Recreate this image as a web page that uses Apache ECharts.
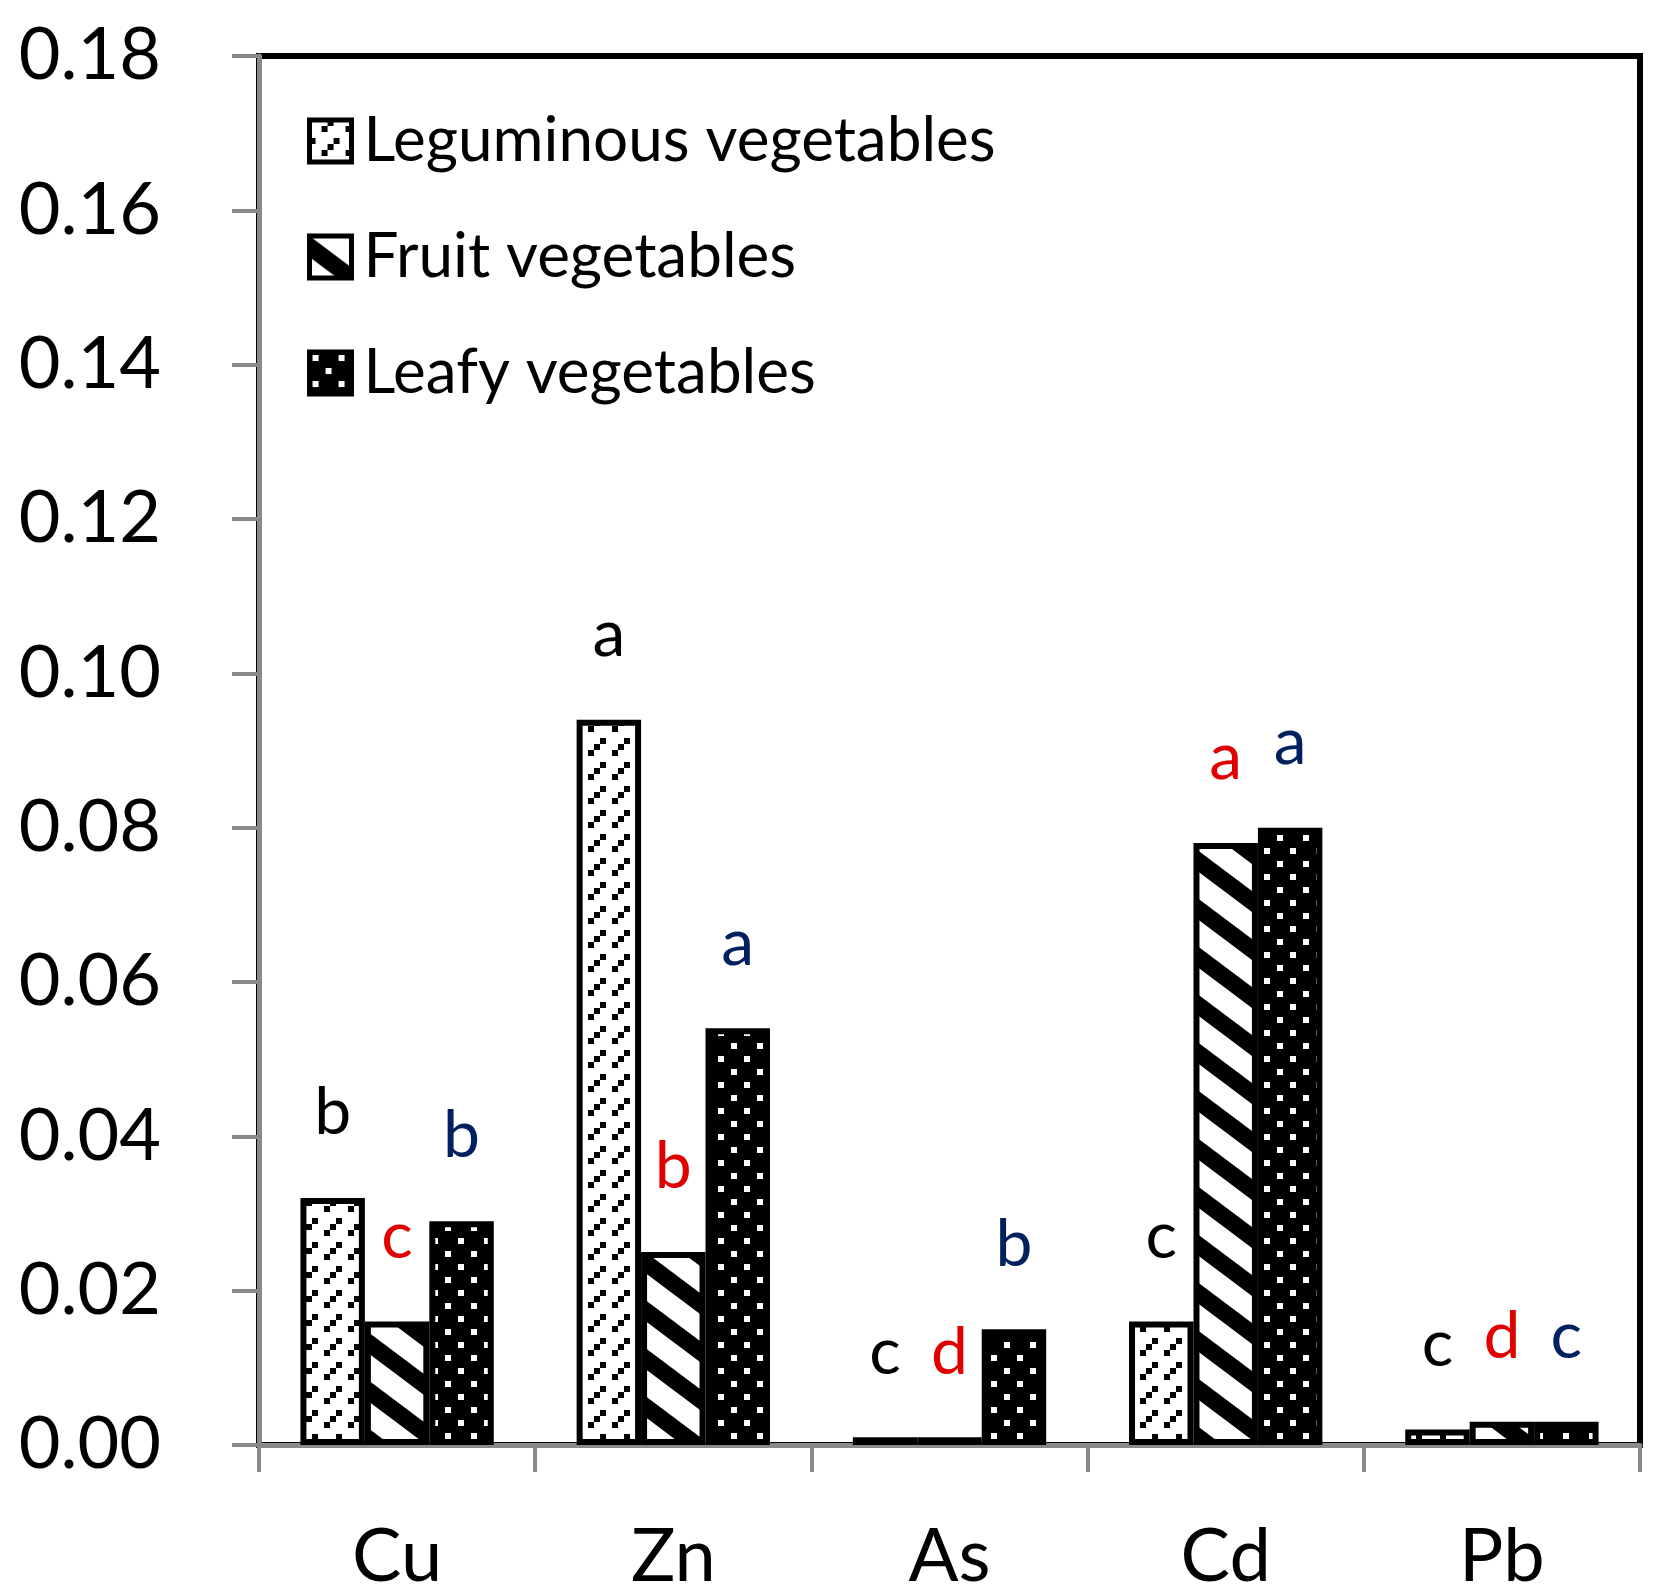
<!DOCTYPE html>
<html>
<head>
<meta charset="utf-8">
<script src="https://cdn.jsdelivr.net/npm/echarts@6/dist/echarts.min.js"></script>
<style>
html, body { margin: 0; background: #fff; }
#main { width: 1668px; height: 1594px; }
</style>
</head>
<body>
<div id="main"></div>
<script>
// categories and values
const metals = ['Cu', 'Zn', 'As', 'Cd', 'Pb'];
const leguminous = [0.032, 0.094, 0.001, 0.016, 0.002];
const fruit = [0.016, 0.025, 0.001, 0.078, 0.003];
const leafy = [0.029, 0.054, 0.015, 0.080, 0.003];
// significance letters over each bar
const leguminousLetters = ['b', 'a', 'c', 'c', 'c'];
const fruitLetters = ['c', 'b', 'd', 'a', 'd'];
const leafyLetters = ['b', 'a', 'b', 'a', 'c'];
const seriesNames = ['Leguminous vegetables', 'Fruit vegetables', 'Leafy vegetables'];

const FONT = 'Lato';
const axisGray = '#898989';

function makeTile(w, h, draw) {
    const c = document.createElement('canvas');
    c.width = w;
    c.height = h;
    draw(c.getContext('2d'), w, h);
    return c;
}

// dashed "/" lines made of small squares
const legTile = makeTile(24, 24, (ctx, w, h) => {
    ctx.fillStyle = '#fff';
    ctx.fillRect(0, 0, w, h);
    ctx.fillStyle = '#000';
    ctx.fillRect(18, 0, 6, 6);
    ctx.fillRect(12, 6, 6, 6);
    ctx.fillRect(0, 18, 6, 6);
});

// wide "\" stripes
const fruitTile = makeTile(64, 48, (ctx, w, h) => {
    ctx.fillStyle = '#fff';
    ctx.fillRect(0, 0, w, h);
    ctx.fillStyle = '#000';
    [-h, 0, h].forEach(k => {
        ctx.beginPath();
        ctx.moveTo(0, k);
        ctx.lineTo(w, k + h);
        ctx.lineTo(w, k + h + 21);
        ctx.lineTo(0, k + 21);
        ctx.closePath();
        ctx.fill();
    });
});

// black with white dots
const leafyTile = makeTile(26, 26, (ctx, w, h) => {
    ctx.fillStyle = '#000';
    ctx.fillRect(0, 0, w, h);
    ctx.fillStyle = '#fff';
    ctx.fillRect(3, 3, 6, 6);
    ctx.fillRect(16, 16, 6, 6);
});

function barSeries(name, data, letters, tile, letterColor) {
    return {
        name: name,
        type: 'bar',
        data: data,
        barGap: '0%',
        barCategoryGap: '30%',
        itemStyle: {
            color: { image: tile, repeat: 'repeat' },
            borderColor: '#000',
            borderWidth: 6
        },
        label: {
            show: true,
            position: 'top',
            distance: 52,
            formatter: p => letters[p.dataIndex],
            color: letterColor,
            fontSize: 66,
            fontFamily: FONT
        },
        emphasis: { disabled: true }
    };
}

var chartDom = document.getElementById('main');
var myChart = echarts.init(chartDom);

var option = {
    animation: false,
    backgroundColor: '#fff',
    grid: {
        left: 259,
        right: 28,
        top: 56,
        bottom: 148,
        show: true,
        borderColor: '#000',
        borderWidth: 6,
        backgroundColor: 'transparent'
    },
    legend: {
        data: seriesNames,
        orient: 'vertical',
        left: 302,
        top: 105,
        icon: 'rect',
        itemWidth: 42,
        itemHeight: 42,
        itemGap: 54,
        itemStyle: { borderColor: '#000', borderWidth: 5 },
        textStyle: {
            fontSize: 62,
            fontFamily: FONT,
            color: '#000',
            padding: [0, 0, 0, 7]
        },
        selectedMode: false
    },
    xAxis: {
        type: 'category',
        data: metals,
        axisLine: { lineStyle: { color: axisGray, width: 5 } },
        axisTick: { show: true, length: 27, lineStyle: { color: axisGray, width: 4 } },
        axisLabel: { margin: 75, fontSize: 74, fontFamily: FONT, color: '#000' },
        splitLine: { show: false }
    },
    yAxis: {
        type: 'value',
        min: 0,
        max: 0.18,
        interval: 0.02,
        axisLine: { show: true, lineStyle: { color: axisGray, width: 5 } },
        axisTick: { show: true, length: 27, lineStyle: { color: axisGray, width: 4 } },
        axisLabel: {
            margin: 98,
            fontSize: 72,
            fontFamily: FONT,
            color: '#000',
            formatter: v => v.toFixed(2)
        },
        splitLine: { show: false }
    },
    series: [
        barSeries(seriesNames[0], leguminous, leguminousLetters, legTile, '#000'),
        barSeries(seriesNames[1], fruit, fruitLetters, fruitTile, '#e00000'),
        barSeries(seriesNames[2], leafy, leafyLetters, leafyTile, '#002060')
    ]
};

option && myChart.setOption(option);
</script>
</body>
</html>
